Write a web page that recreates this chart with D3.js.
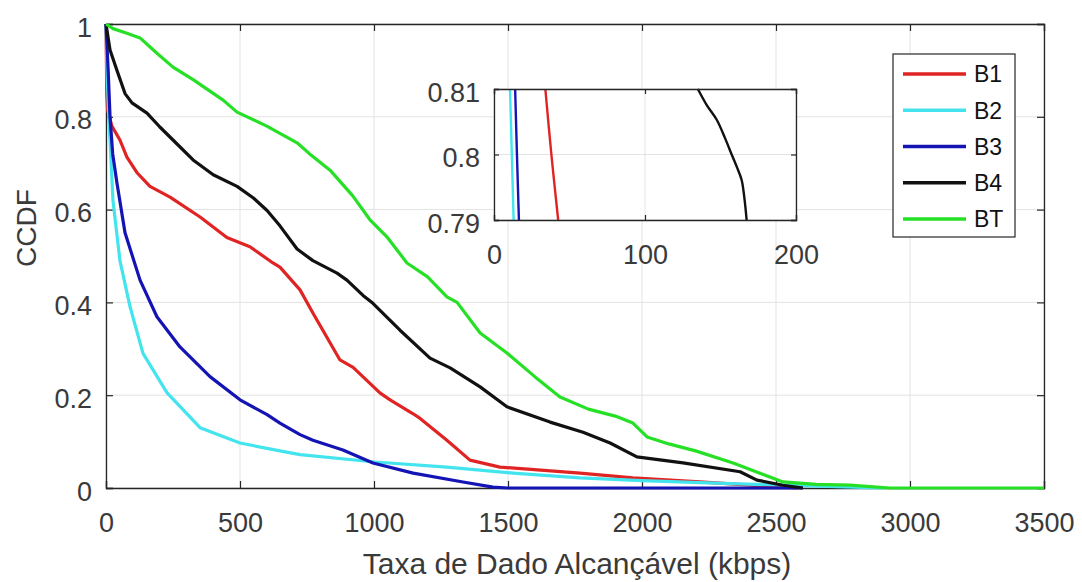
<!DOCTYPE html>
<html><head><meta charset="utf-8">
<script src="https://cdn.jsdelivr.net/npm/d3@7"></script>
<style>html,body{margin:0;padding:0;background:#fff;}svg{display:block;font-family:"Liberation Sans",Arial,sans-serif;}</style>
</head><body>
<svg id="chart" width="1082" height="582"></svg>
<script>
// ---- data (rate in kbps, CCDF) ----
const seriesNames = ["B1", "B2", "B3", "B4", "BT"];
const xTicks = [0, 500, 1000, 1500, 2000, 2500, 3000, 3500];
const yTicks = [0, 0.2, 0.4, 0.6, 0.8, 1];
const insetXTicks = [0, 100, 200];
const insetYTicks = [0.79, 0.8, 0.81];

const b1 = [[0,1],[3,0.85],[6,0.815],[22,0.78],[52,0.75],[78,0.713],[115,0.68],[164,0.65],[239,0.627],[351,0.584],[451,0.54],[537,0.52],[623,0.485],[649,0.476],[724,0.427],[772,0.377],[873,0.276],[922,0.26],[1022,0.205],[1060,0.19],[1146,0.16],[1172,0.15],[1272,0.103],[1358,0.06],[1470,0.045],[1769,0.032],[1966,0.022],[2216,0.013],[2403,0.006],[2526,0.002],[2580,0]];
const b2 = [[0,1],[4,0.9],[10,0.80],[15,0.75],[26,0.62],[52,0.49],[90,0.39],[138,0.29],[228,0.205],[351,0.13],[500,0.097],[649,0.08],[724,0.072],[1004,0.056],[1272,0.045],[1519,0.032],[1769,0.022],[2000,0.016],[2300,0.01],[2600,0.005],[2850,0.001],[2900,0]];
const b3 = [[0,1],[8,0.9],[15,0.80],[25,0.72],[41,0.657],[71,0.55],[127,0.448],[190,0.369],[276,0.304],[388,0.24],[500,0.19],[601,0.158],[649,0.14],[724,0.115],[772,0.103],[884,0.082],[996,0.054],[1146,0.032],[1332,0.013],[1444,0.002],[1500,0],[2600,0]];
const b4 = [[0,1],[15,0.944],[41,0.90],[71,0.85],[97,0.83],[153,0.808],[201,0.778],[250,0.75],[325,0.707],[400,0.675],[489,0.65],[550,0.625],[601,0.598],[649,0.565],[713,0.515],[772,0.49],[862,0.463],[899,0.448],[959,0.415],[996,0.398],[1097,0.34],[1209,0.28],[1284,0.259],[1396,0.218],[1496,0.175],[1657,0.142],[1780,0.12],[1881,0.097],[1981,0.067],[2153,0.054],[2366,0.035],[2429,0.017],[2526,0.006],[2600,0]];
const bt = [[0,1],[26,0.99],[78,0.98],[127,0.97],[190,0.937],[250,0.907],[325,0.88],[437,0.836],[489,0.81],[600,0.78],[713,0.744],[760,0.72],[836,0.685],[920,0.63],[985,0.578],[1050,0.54],[1123,0.485],[1200,0.455],[1272,0.412],[1310,0.40],[1396,0.334],[1496,0.291],[1600,0.24],[1694,0.196],[1800,0.17],[1900,0.155],[1966,0.14],[2019,0.11],[2100,0.095],[2200,0.08],[2340,0.054],[2440,0.032],[2526,0.013],[2650,0.008],[2776,0.006],[2925,0],[3500,0]];

// zoomed detail (inset) around CCDF = 0.8
const insetB1 = [[34,0.81],[38,0.80],[42.5,0.79]];
const insetB2 = [[10.6,0.81],[11.8,0.80],[13,0.79]];
const insetB3 = [[14,0.81],[15.2,0.80],[16.5,0.79]];
const insetB4 = [[135,0.81],[141,0.8075],[147.5,0.8053],[153,0.8025],[157.4,0.80],[161,0.798],[164,0.7961],[166,0.793],[167.3,0.79]];
const insetBT = [];

const mainData = [b1, b2, b3, b4, bt];
const insetData = [insetB1, insetB2, insetB3, insetB4, insetBT];

// ---- drawing ----
const colors = ["#e02424", "#44e4ee", "#1414b4", "#111111", "#26e026"];
const svg = d3.select("#chart");
const axisColor = "#262626", gridColor = "#e3e3e3", textColor = "#3a3a3a";
const FS = 27;
const M = {l: 106, r: 1044, t: 24, b: 488};
const x = d3.scaleLinear().domain([0, 3500]).range([M.l, M.r]);
const y = d3.scaleLinear().domain([0, 1]).range([M.b, M.t]);

const g = svg.append("g");
// grid
g.selectAll(".gx").data(xTicks).join("line").attr("x1", d => x(d)).attr("x2", d => x(d))
  .attr("y1", M.t).attr("y2", M.b).attr("stroke", gridColor).attr("stroke-width", 1);
g.selectAll(".gy").data(yTicks).join("line").attr("y1", d => y(d)).attr("y2", d => y(d))
  .attr("x1", M.l).attr("x2", M.r).attr("stroke", gridColor).attr("stroke-width", 1);

// axes via d3 axis
const tl = 7;
const xAxis = g.append("g").attr("transform", `translate(0,${M.b})`)
  .call(d3.axisBottom(x).tickValues(xTicks).tickSize(-tl).tickPadding(25).tickFormat(d3.format("d")));
const xAxisTop = g.append("g").attr("transform", `translate(0,${M.t})`)
  .call(d3.axisTop(x).tickValues(xTicks).tickSize(-tl).tickFormat(""));
const yAxis = g.append("g").attr("transform", `translate(${M.l},0)`)
  .call(d3.axisLeft(y).tickValues(yTicks).tickSize(-tl).tickPadding(14).tickFormat(d => d === 0 || d === 1 ? String(d) : d3.format(".1f")(d)));
const yAxisR = g.append("g").attr("transform", `translate(${M.r},0)`)
  .call(d3.axisRight(y).tickValues(yTicks).tickSize(-tl).tickFormat(""));
[xAxis, xAxisTop, yAxis, yAxisR].forEach(a => {
  a.select(".domain").attr("stroke", axisColor).attr("stroke-width", 1.3);
  a.selectAll(".tick line").attr("stroke", axisColor).attr("stroke-width", 1.2);
  a.selectAll(".tick text").attr("fill", textColor).attr("font-size", FS).attr("font-family", "Liberation Sans, Arial, sans-serif");
});
yAxis.selectAll(".tick text").attr("dy", "0.45em");

// curves
const line = d3.line().x(d => x(d[0])).y(d => y(d[1]));
mainData.forEach((s, i) => {
  g.append("path").datum(s).attr("d", line).attr("fill", "none")
    .attr("stroke", colors[i]).attr("stroke-width", 3.2).attr("stroke-linejoin", "round");
});

// labels
svg.append("text").attr("x", (M.l + M.r) / 2 + 2).attr("y", 574).attr("text-anchor", "middle")
  .attr("font-size", 30).attr("fill", textColor).text("Taxa de Dado Alcançável (kbps)");
svg.append("text").attr("transform", `translate(36,228) rotate(-90)`).attr("text-anchor", "middle")
  .attr("font-size", 28).attr("fill", textColor).text("CCDF");

// legend
const L = {x: 893, y: 54, w: 122, h: 183};
const lg = svg.append("g");
lg.append("rect").attr("x", L.x).attr("y", L.y).attr("width", L.w).attr("height", L.h)
  .attr("fill", "#fff").attr("stroke", axisColor).attr("stroke-width", 1.2);
const ly = d3.scalePoint().domain(seriesNames).range([74, 219]);
seriesNames.forEach((n, i) => {
  lg.append("line").attr("x1", 903).attr("x2", 966).attr("y1", ly(n)).attr("y2", ly(n))
    .attr("stroke", colors[i]).attr("stroke-width", 3.5);
  lg.append("text").attr("x", 974).attr("y", ly(n)).attr("dy", "0.36em").attr("font-size", 23)
    .attr("fill", "#111").text(n);
});

// inset
const I = {l: 494, r: 796, t: 89, b: 220};
const xi = d3.scaleLinear().domain([0, 200]).range([I.l, I.r]);
const yi = d3.scaleLinear().domain([0.79, 0.81]).range([I.b, I.t]);
const ig = svg.append("g");
ig.append("rect").attr("x", I.l).attr("y", I.t).attr("width", I.r - I.l).attr("height", I.b - I.t).attr("fill", "#fff");
ig.selectAll(".igx").data(insetXTicks).join("line").attr("x1", d => xi(d)).attr("x2", d => xi(d))
  .attr("y1", I.t).attr("y2", I.b).attr("stroke", gridColor);
ig.selectAll(".igy").data(insetYTicks).join("line").attr("y1", d => yi(d)).attr("y2", d => yi(d))
  .attr("x1", I.l).attr("x2", I.r).attr("stroke", gridColor);
const iline = d3.line().x(d => xi(d[0])).y(d => yi(d[1])).curve(d3.curveCatmullRom);
insetData.forEach((s, i) => {
  if (!s.length) return;
  ig.append("path").datum(s).attr("d", iline).attr("fill", "none")
    .attr("stroke", colors[i]).attr("stroke-width", 2.4).attr("stroke-linejoin", "round");
});
const ia = [
  ig.append("g").attr("transform", `translate(0,${I.b})`).call(d3.axisBottom(xi).tickValues(insetXTicks).tickSize(-5).tickPadding(25)),
  ig.append("g").attr("transform", `translate(0,${I.t})`).call(d3.axisTop(xi).tickValues(insetXTicks).tickSize(-5).tickFormat("")),
  ig.append("g").attr("transform", `translate(${I.l},0)`).call(d3.axisLeft(yi).tickValues(insetYTicks).tickSize(-5).tickPadding(14).tickFormat(d => d === 0.8 ? "0.8" : d3.format(".2f")(d))),
  ig.append("g").attr("transform", `translate(${I.r},0)`).call(d3.axisRight(yi).tickValues(insetYTicks).tickSize(-5).tickFormat(""))
];
ia.forEach(a => {
  a.select(".domain").attr("stroke", axisColor).attr("stroke-width", 1.3);
  a.selectAll(".tick line").attr("stroke", axisColor).attr("stroke-width", 1.2);
  a.selectAll(".tick text").attr("fill", textColor).attr("font-size", FS).attr("font-family", "Liberation Sans, Arial, sans-serif");
});
ia[2].selectAll(".tick text").attr("dy", "0.45em");
</script>
</body></html>
